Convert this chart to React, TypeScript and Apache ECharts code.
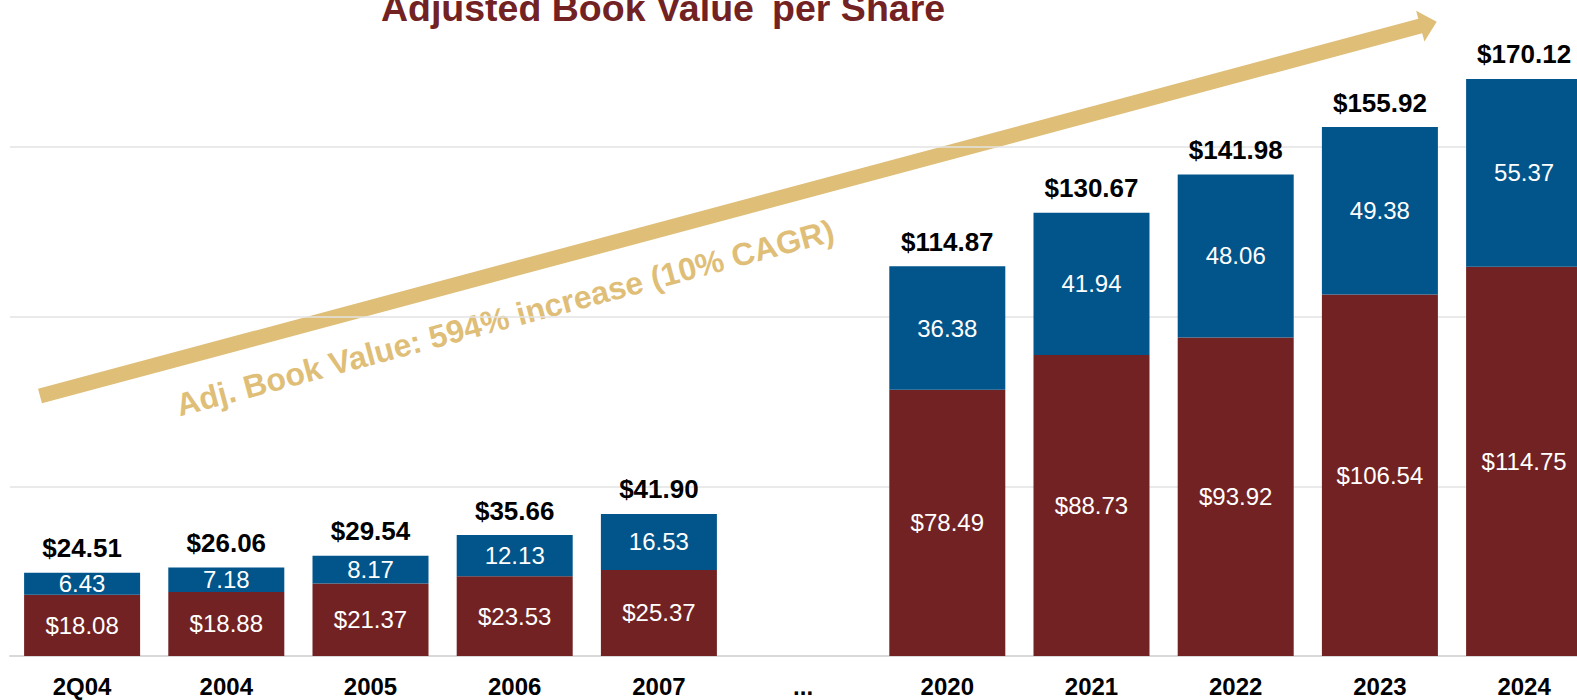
import React, { useEffect, useRef } from "react";
import * as echarts from "echarts";

const categories = ["2Q04", "2004", "2005", "2006", "2007", "...", "2020", "2021", "2022", "2023", "2024"];
const bookValue = [18.08, 18.88, 21.37, 23.53, 25.37, null, 78.49, 88.73, 93.92, 106.54, 114.75];
const adjustments = [6.43, 7.18, 8.17, 12.13, 16.53, null, 36.38, 41.94, 48.06, 49.38, 55.37];
const totals = [24.51, 26.06, 29.54, 35.66, 41.9, null, 114.87, 130.67, 141.98, 155.92, 170.12];

const RED = "#722223";
const BLUE = "#01558A";
const GOLD = "#DFBE78";
const FONT = "Liberation Sans, Arial, sans-serif";

export default function App() {
  const ref = useRef<HTMLDivElement>(null);
  useEffect(() => {
    if (!ref.current) return;
    const chart = echarts.init(ref.current, null, { renderer: "svg" });
    const ang = (15 * Math.PI) / 180;
    const tip = [1436.7, 21.7];
    const ux = Math.cos(ang), uy = -Math.sin(ang);
    const nx = Math.sin(ang), ny = Math.cos(ang);
    const headLen = 17, headHalf = 16;
    const base = [tip[0] - headLen * ux, tip[1] - headLen * uy];
    chart.setOption({
      animation: false,
      textStyle: { fontFamily: FONT },
      grid: { left: 10, width: 1586.2, top: -22.4, bottom: 44, containLabel: false, outerBoundsMode: "none" },
      xAxis: {
        type: "category",
        data: categories,
        axisLine: { show: true, lineStyle: { color: "#d9d9d9", width: 2 } },
        axisTick: { show: false },
        axisLabel: { color: "#000", fontWeight: "bold", fontSize: 24, margin: 18, fontFamily: FONT, interval: 0 },
      },
      yAxis: {
        type: "value",
        min: 0,
        max: 200,
        interval: 50,
        axisLabel: { show: false },
        axisLine: { show: false },
        axisTick: { show: false },
        splitLine: { lineStyle: { color: "#e3e3e3", width: 1.5 } },
      },
      graphic: [
        {
          type: "text",
          x: 663,
          y: 8,
          style: {
            text: "Adjusted Book Value{s|*} per Share",
            fill: RED,
            font: `bold 37.5px ${FONT}`,
            align: "center",
            verticalAlign: "middle",
            rich: { s: { fontSize: 20, fontWeight: "bold", fill: RED, verticalAlign: "top" } },
          },
        },
        {
          type: "line",
          shape: { x1: 40, y1: 396, x2: base[0] + 1 * ux, y2: base[1] + 1 * uy },
          style: { stroke: GOLD, lineWidth: 15, lineCap: "butt" },
        },
        {
          type: "polygon",
          shape: {
            points: [
              tip,
              [base[0] + headHalf * nx, base[1] + headHalf * ny],
              [base[0] - headHalf * nx, base[1] - headHalf * ny],
            ],
          },
          style: { fill: GOLD },
        },
        {
          type: "text",
          x: 505,
          y: 318,
          rotation: ang,
          style: {
            text: "Adj. Book Value: 594% increase (10% CAGR)",
            fill: GOLD,
            font: `bold 32px ${FONT}`,
            align: "center",
            verticalAlign: "middle",
          },
        },
      ],
      series: [
        {
          name: "Book Value",
          type: "bar",
          stack: "abv",
          barWidth: 116,
          data: bookValue,
          itemStyle: { color: RED },
          label: {
            show: true,
            position: "inside",
            color: "#fff",
            fontSize: 24,
            fontFamily: FONT,
            formatter: (p: any) => "$" + Number(p.value).toFixed(2),
          },
        },
        {
          name: "Adjustments",
          type: "bar",
          stack: "abv",
          barWidth: 116,
          data: adjustments,
          itemStyle: { color: BLUE },
          label: {
            show: true,
            position: "inside",
            color: "#fff",
            fontSize: 24,
            fontFamily: FONT,
            formatter: (p: any) => Number(p.value).toFixed(2),
          },
        },
        {
          name: "Total",
          type: "line",
          data: totals,
          symbol: "circle",
          symbolSize: 1,
          itemStyle: { color: "rgba(0,0,0,0)" },
          lineStyle: { width: 0, opacity: 0 },
          connectNulls: false,
          label: {
            show: true,
            position: "top",
            distance: 11,
            color: "#000",
            fontWeight: "bold",
            fontSize: 26,
            fontFamily: FONT,
            formatter: (p: any) => "$" + Number(p.value).toFixed(2),
          },
          z: 5,
        },
      ],
    });
    return () => chart.dispose();
  }, []);
  return (
    <div style={{ position: "fixed", left: 0, top: 0, width: 1577, height: 700, overflow: "hidden", background: "#fff" }}>
      <div ref={ref} style={{ width: 1600, height: 700 }} />
    </div>
  );
}
